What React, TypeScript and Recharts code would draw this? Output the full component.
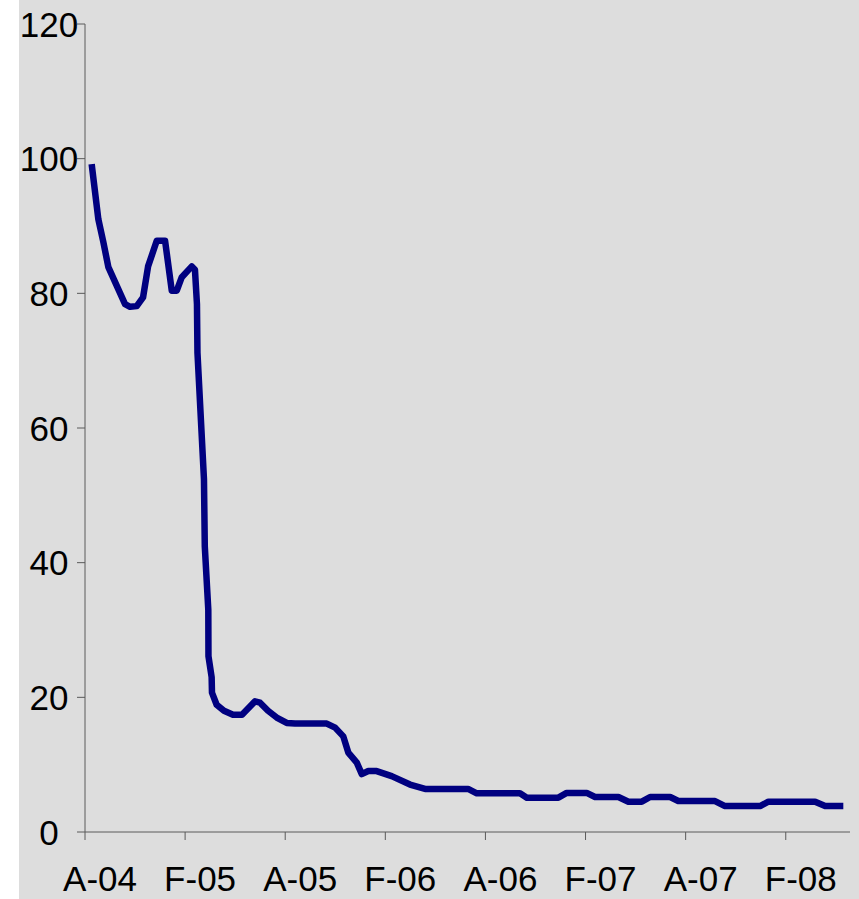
import React from 'react';
import { LineChart, Line, XAxis, YAxis } from 'recharts';

// months since Aug 2004
const months = [
  0.4, 0.8, 1.1, 1.4, 2.4, 2.7, 3.1, 3.48, 3.78, 4.3, 4.8, 5.2, 5.5, 5.8, 6.4, 6.59,
  6.71, 6.74, 7.13, 7.18, 7.39, 7.4, 7.59, 7.61, 7.89, 8.33, 8.87, 9.41, 10.19, 10.49,
  10.97, 11.49, 12.09, 12.59, 14.49, 14.99, 15.48, 15.78, 16.29, 16.59, 16.98, 17.48,
  18.38, 19.48, 20.38, 22.96, 23.48, 26.07, 26.48, 28.37, 28.87, 30.07, 30.57, 31.97,
  32.57, 33.37, 33.87, 35.07, 35.56, 37.76, 38.36, 40.46, 40.96, 43.76, 44.36, 45.45,
];

const values = [
  99.2, 91, 87.6, 83.9, 78.4, 78, 78.1, 79.4, 84, 87.8, 87.8, 80.4, 80.4, 82.4, 84, 83.5,
  78.4, 71.2, 52.4, 42.4, 33, 26.1, 23, 20.7, 18.9, 18, 17.4, 17.4, 19.4, 19.2,
  18, 17, 16.2, 16.1, 16.1, 15.5, 14.2, 11.8, 10.3, 8.6, 9.05, 9.05,
  8.3, 7.05, 6.4, 6.4, 5.75, 5.75, 5.1, 5.1, 5.8, 5.8, 5.2, 5.2,
  4.5, 4.5, 5.2, 5.2, 4.6, 4.6, 3.85, 3.85, 4.5, 4.5, 3.85, 3.85,
];

const xTicks = [0, 6, 12, 18, 24, 30, 36, 42];
const xLabels = ['A-04', 'F-05', 'A-05', 'F-06', 'A-06', 'F-07', 'A-07', 'F-08'];
const yTicks = [0, 20, 40, 60, 80, 100, 120];

const data = months.map((m, i) => ({ m, v: values[i] }));

const FONT = '"Liberation Sans", Arial, sans-serif';
const AXIS = '#5a5a5a';

const XTick = (props: any) => {
  const { x, y, payload } = props;
  const idx = xTicks.indexOf(payload.value);
  return (
    <text x={x + 15} y={y} dy="0.71em" textAnchor="middle" fontSize={35} fontFamily={FONT} fill="#000">
      {xLabels[idx]}
    </text>
  );
};

const YTick = (props: any) => {
  const { x, y, payload } = props;
  return (
    <text x={x - 26} y={y} dy="0.36em" textAnchor="middle" fontSize={35} fontFamily={FONT} fill="#000">
      {payload.value}
    </text>
  );
};

export default function App() {
  return (
    <div style={{ position: 'absolute', left: 19, top: 0, width: 840, height: 899, background: '#DDDDDD' }}>
      <LineChart width={840} height={899} data={data} margin={{ top: 24, right: 9, bottom: 0, left: 0 }}>
        <XAxis
          dataKey="m"
          type="number"
          domain={[0, 45.85]}
          ticks={xTicks}
          interval={0}
          height={67}
          tickSize={8}
          tickMargin={26}
          stroke={AXIS}
          tick={<XTick />}
          allowDataOverflow
        />
        <YAxis
          type="number"
          domain={[0, 120]}
          ticks={yTicks}
          interval={0}
          width={66}
          tickSize={8}
          tickMargin={2}
          stroke={AXIS}
          tick={<YTick />}
        />
        <Line
          type="linear"
          dataKey="v"
          stroke="#000080"
          strokeWidth={6.5}
          dot={false}
          isAnimationActive={false}
          strokeLinejoin="round"
        />
      </LineChart>
    </div>
  );
}
